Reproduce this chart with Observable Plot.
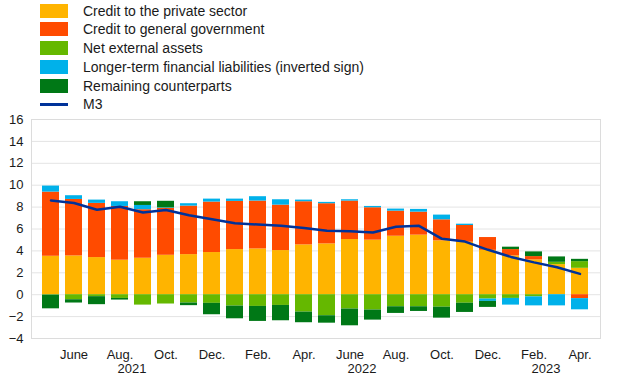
<!DOCTYPE html>
<html><head><meta charset="utf-8">
<script src="https://cdn.jsdelivr.net/npm/d3@7"></script>
<script src="https://cdn.jsdelivr.net/npm/@observablehq/plot@0.6"></script>
<style>
body{margin:0;background:#fff;font-family:"Liberation Sans",Arial,sans-serif;}
#wrap{position:relative;width:620px;height:387px;overflow:hidden;}
#legend{position:absolute;left:0;top:0;width:620px;height:112px;}
.row{position:absolute;left:40px;height:14px;display:flex;align-items:center;font-size:14px;color:#1a1a1a;white-space:nowrap;}
.sw{width:28px;height:14px;margin-right:15px;flex:none;}
.ln{width:28px;height:2.5px;margin-right:15px;flex:none;}
#chart{position:absolute;left:0;top:112px;}
</style></head>
<body>
<div id="wrap"><div id="legend"></div><div id="chart"></div></div>
<script>
const months = ["May 2021","Jun 2021","Jul 2021","Aug 2021","Sep 2021","Oct 2021","Nov 2021","Dec 2021",
  "Jan 2022","Feb 2022","Mar 2022","Apr 2022","May 2022","Jun 2022","Jul 2022","Aug 2022","Sep 2022","Oct 2022","Nov 2022","Dec 2022",
  "Jan 2023","Feb 2023","Mar 2023","Apr 2023"];
const tickMonths = ["Jun 2021","Aug 2021","Oct 2021","Dec 2021","Feb 2022","Apr 2022","Jun 2022","Aug 2022","Oct 2022","Dec 2022","Feb 2023","Apr 2023"];
const tickLabels = ["June","Aug.","Oct.","Dec.","Feb.","Apr.","June","Aug.","Oct.","Dec.","Feb.","Apr."];
const yearMonths = ["Aug 2021","Jun 2022","Feb 2023"];
const yearLabels = ["2021","2022","2023"];
const yTicks = [-4,-2,0,2,4,6,8,10,12,14,16];

const seriesNames = ["Credit to the private sector","Credit to general government","Net external assets","Longer-term financial liabilities (inverted sign)","Remaining counterparts"];
const seriesColors = ["#FFB400","#FF4B00","#65B800","#00B1EA","#007816"];

const privateSector = [3.51,3.54,3.39,3.15,3.33,3.60,3.66,3.85,4.12,4.18,4.03,4.55,4.64,5.04,4.98,5.34,5.44,4.92,4.79,4.05,3.54,3.18,2.75,2.41];
const generalGov   = [5.86,5.16,4.95,4.91,4.43,4.28,4.43,4.61,4.40,4.37,4.15,3.94,3.67,3.51,2.96,2.29,2.10,1.92,1.53,1.17,0.58,0.30,0.00,-0.36];
const netExternal  = [-0.04,-0.46,-0.18,-0.34,-0.95,-0.85,-0.76,-0.79,-1.04,-1.07,-0.98,-1.59,-1.92,-1.31,-1.40,-1.10,-1.10,-1.14,-0.78,-0.40,-0.34,-0.20,0.21,0.61];
const longerTerm   = [0.55,0.34,0.30,0.43,0.39,0.05,0.22,0.27,0.21,0.40,0.49,0.15,0.12,0.12,0.12,0.19,0.25,0.43,0.12,-0.21,-0.61,-0.82,-1.02,-1.02];
const remaining    = [-1.25,-0.30,-0.73,-0.15,0.34,0.60,-0.24,-1.04,-1.16,-1.37,-1.40,-0.97,-0.68,-1.53,-0.92,-0.61,-0.43,-1.00,-0.84,-0.55,0.22,0.43,0.49,0.21];
const m3 = [8.61,8.37,7.76,8.03,7.51,7.73,7.25,6.90,6.53,6.41,6.29,6.10,5.83,5.80,5.68,6.20,6.29,5.10,4.85,4.10,3.45,2.95,2.50,1.90];

const seriesValues = [privateSector, generalGov, netExternal, longerTerm, remaining];
const rows = [];
seriesValues.forEach((vals, s) => vals.forEach((v, i) => rows.push({month: months[i], series: seriesNames[s], value: v})));
const m3rows = m3.map((v, i) => ({month: months[i], value: v}));
const years = yearMonths.map((m, i) => ({month: m, year: yearLabels[i]}));
const tickLabelOf = Object.fromEntries(tickMonths.map((m, i) => [m, tickLabels[i]]));

// legend
const legend = document.getElementById("legend");
const rowCenters = [10.5, 29.2, 48, 66.8, 85.6, 104.3];
seriesNames.forEach((name, i) => {
  const r = document.createElement("div");
  r.className = "row";
  r.style.top = (rowCenters[i] - 7) + "px";
  r.innerHTML = `<span class="sw" style="background:${seriesColors[i]}"></span><span>${name}</span>`;
  legend.appendChild(r);
});
{
  const r = document.createElement("div");
  r.className = "row";
  r.style.top = (rowCenters[5] - 7) + "px";
  r.innerHTML = `<span class="ln" style="background:#003299"></span><span>M3</span>`;
  legend.appendChild(r);
}

const chart = Plot.plot({
  width: 620, height: 275,
  marginTop: 7, marginBottom: 49, marginLeft: 31, marginRight: 20,
  style: {fontFamily: "'Liberation Sans', Arial, sans-serif", fontSize: "13px", color: "#1a1a1a", background: "white"},
  x: {type: "band", domain: months, padding: 0.26, axis: null},
  y: {domain: [-4, 16], axis: null},
  color: {domain: seriesNames, range: seriesColors},
  marks: [
    Plot.gridY(yTicks, {stroke: "#e4e4e4", strokeOpacity: 1}),
    Plot.frame({stroke: "#dcdcdc"}),
    Plot.axisY(yTicks, {tickSize: 0, tickPadding: 8, fontSize: 13, label: null}),
    Plot.axisX(tickMonths, {tickSize: 0, tickPadding: 11, fontSize: 13, label: null, tickFormat: m => tickLabelOf[m]}),
    Plot.barY(rows, {x: "month", y: "value", fill: "series"}),
    Plot.line(m3rows, {x: "month", y: "value", stroke: "#003299", strokeWidth: 2.5}),
    Plot.text(years, {x: "month", text: "year", frameAnchor: "bottom", dy: 34, dx: 12, fontSize: 13})
  ]
});
document.getElementById("chart").appendChild(chart);
</script>
</body></html>
